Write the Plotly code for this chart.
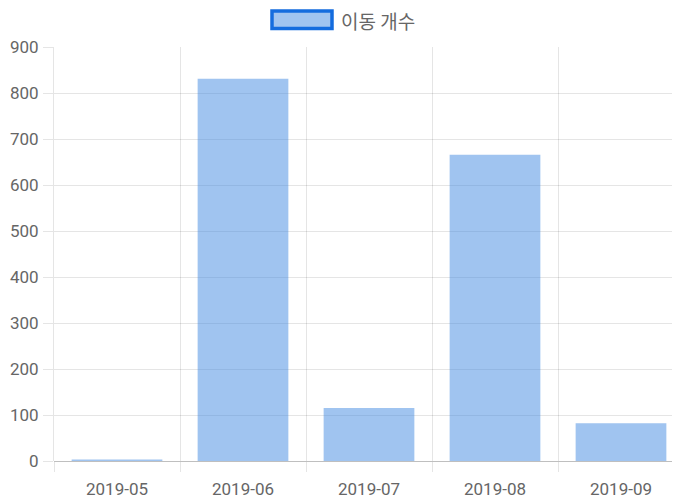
import plotly.graph_objects as go

months = ["2019-05", "2019-06", "2019-07", "2019-08", "2019-09"]
counts = [3, 831, 115, 666, 82]
series_name = "이동 개수"
y_ticks = [0, 100, 200, 300, 400, 500, 600, 700, 800, 900]

# page body has an 8px margin, so the figure starts at (8, 8)
OFF = 8
W, H = 680, 504
L, R, T, B = 54 - OFF, 4, 47 - OFF, 51
pw, ph = W - L - R, H - T - B

def px_x(x):
    return (x - OFF - L) / pw

def px_y(y):
    return (H - B - (y - OFF)) / ph

fill = "rgba(65,137,225,0.5)"
grid = "rgba(0,0,0,0.1)"
font = dict(family="Roboto, Arial, sans-serif", size=17, color="#666")

fig = go.Figure()
fig.add_trace(go.Bar(x=months, y=counts, name=series_name,
                     marker=dict(color=fill, line=dict(width=0)),
                     width=0.72, showlegend=False))

fig.add_shape(type="rect", xref="paper", yref="paper",
              x0=px_x(272), x1=px_x(332), y0=px_y(28.5), y1=px_y(11),
              line=dict(color="rgb(20,108,222)", width=3.5), fillcolor=fill)
fig.add_annotation(text=series_name, xref="paper", yref="paper",
                   x=px_x(339), y=px_y(21), xanchor="left", yanchor="middle",
                   showarrow=False,
                   font=dict(family="Noto Sans CJK KR, sans-serif", size=19, color="#666"))

fig.update_layout(
    width=W, height=H,
    margin=dict(l=L, r=R, t=T, b=B, pad=0, autoexpand=False),
    paper_bgcolor="white", plot_bgcolor="white",
    font=font,
    xaxis=dict(type="category", tickson="boundaries", showgrid=True,
               gridcolor=grid, gridwidth=1, ticks="outside", ticklen=10,
               tickcolor=grid, showline=False, tickfont=font,
               range=[-0.5, 4.5], automargin=False, ticklabelstandoff=16),
    yaxis=dict(range=[0, 900], tickvals=y_ticks, showgrid=True,
               gridcolor=grid, gridwidth=1, ticks="outside", ticklen=10,
               tickcolor=grid, zeroline=True, zerolinecolor="rgba(0,0,0,0.25)",
               zerolinewidth=1, showline=True, linecolor=grid, linewidth=1,
               tickfont=font, automargin=False, ticklabelstandoff=1),
)

fig.write_html("out.html")
